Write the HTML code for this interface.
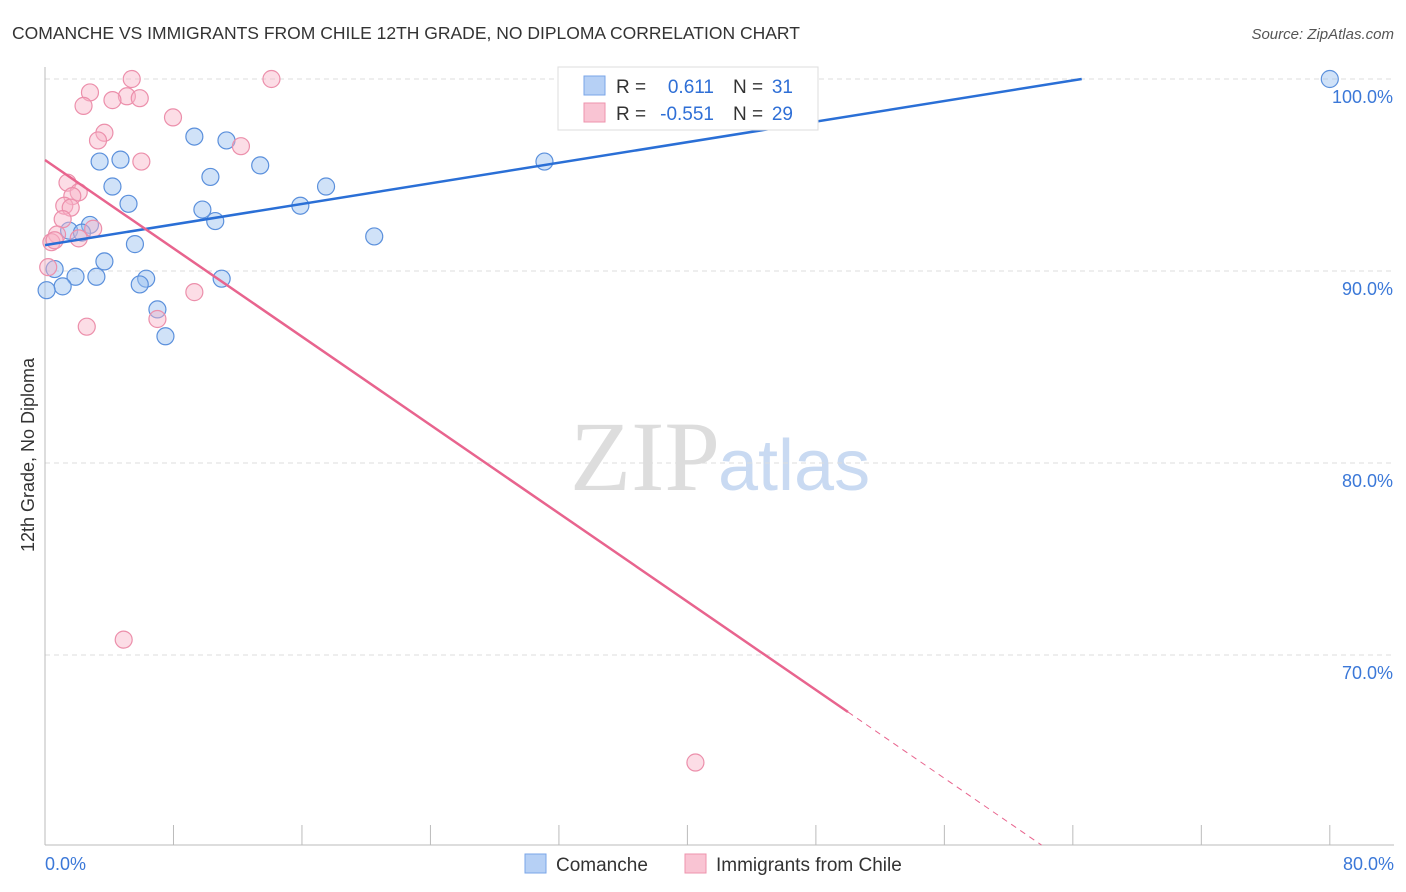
<!DOCTYPE html>
<html><head><meta charset="utf-8"><style>
body{margin:0;background:#fff;font-family:"Liberation Sans",sans-serif;}
</style></head><body>
<svg width="1406" height="892" style="display:block">
<text x="12" y="39" font-size="17.5" fill="#333">COMANCHE VS IMMIGRANTS FROM CHILE 12TH GRADE, NO DIPLOMA CORRELATION CHART</text>
<text x="1394" y="39" font-size="15" fill="#555" font-style="italic" text-anchor="end">Source: ZipAtlas.com</text>
<text x="720" y="490" font-size="100" fill="#ddd" text-anchor="end" font-family="Liberation Serif">ZIP</text>
<text x="718" y="490" font-size="72" fill="#c9daf2">atlas</text>
<text transform="translate(34,455) rotate(-90)" font-size="18" fill="#333" text-anchor="middle">12th Grade, No Diploma</text>
<g id="grid"></g><g id="axes"></g><g id="pts"></g><g id="lines"></g>
<g>
<rect x="558" y="67" width="260" height="63" fill="#fff" stroke="#ddd"/>
<rect x="584" y="76" width="21" height="19" fill="#b6d0f5" stroke="#7aa6e8"/>
<rect x="584" y="103" width="21" height="19" fill="#f9c4d3" stroke="#ee93ad"/>
<text x="616" y="93" font-size="19" fill="#333">R = </text><text x="714" y="93" font-size="19" fill="#2f6fd6" text-anchor="end">0.611</text>
<text x="733" y="93" font-size="19" fill="#333">N = </text><text x="793" y="93" font-size="19" fill="#2f6fd6" text-anchor="end">31</text>
<text x="616" y="120" font-size="19" fill="#333">R = </text><text x="714" y="120" font-size="19" fill="#2f6fd6" text-anchor="end">-0.551</text>
<text x="733" y="120" font-size="19" fill="#333">N = </text><text x="793" y="120" font-size="19" fill="#2f6fd6" text-anchor="end">29</text>
</g>
<g>
<rect x="525" y="854" width="21" height="19" fill="#b6d0f5" stroke="#7aa6e8"/>
<text x="556" y="871" font-size="19" fill="#333">Comanche</text>
<rect x="685" y="854" width="21" height="19" fill="#f9c4d3" stroke="#ee93ad"/>
<text x="716" y="871" font-size="19" fill="#333">Immigrants from Chile</text>
</g>
</svg>
<script>
const yTicks=[100,90,80,70];
const xTickLabels=["0.0%","80.0%"];
const blueX=[33.4,80,9.3,11.3,3.4,4.7,13.4,31.1,10.3,4.2,17.5,5.2,15.9,9.8,10.6,2.8,1.5,2.3,20.5,5.6,3.7,0.6,1.9,3.2,6.3,5.9,11.0,1.1,0.1,7.0,7.5];
const blueY=[100,100,97.0,96.8,95.7,95.8,95.5,95.7,94.9,94.4,94.4,93.5,93.4,93.2,92.6,92.4,92.1,92.0,91.8,91.4,90.5,90.1,89.7,89.7,89.6,89.3,89.6,89.2,89.0,88.0,86.6];
const pinkX=[14.1,5.4,2.8,2.4,5.1,4.2,5.9,7.97,3.7,3.3,12.2,6.0,1.4,2.1,1.7,1.2,1.6,1.1,0.75,2.1,3.0,0.4,0.2,9.3,7.0,2.6,4.9,40.5,0.6];
const pinkY=[100,100,99.3,98.6,99.1,98.9,99.0,98.0,97.2,96.8,96.5,95.7,94.6,94.1,93.9,93.4,93.3,92.7,91.9,91.7,92.2,91.5,90.2,88.9,87.5,87.1,70.8,64.4,91.6];
const blueFit=[91.35,0.134], pinkFit=[95.78,-0.575];
const X=v=>45+v*16.06, Y=v=>79+(100-v)*19.2;
const NS="http://www.w3.org/2000/svg";
function mk(t,a,p){const e=document.createElementNS(NS,t);for(const k in a)e.setAttribute(k,a[k]);document.getElementById(p).appendChild(e);return e;}
yTicks.forEach(t=>{
 const l=mk('line',{x1:45,x2:1394,y1:Y(t),y2:Y(t),stroke:'#ddd','stroke-dasharray':'5,4'},'grid');
 
 
 const tx=mk('text',{x:1393,y:Y(t)+24,'font-size':18,fill:'#3b78d8','text-anchor':'end'},'grid');
 tx.textContent=t.toFixed(1)+'%';
 
 
});
mk('line',{x1:45,x2:45,y1:67,y2:845,stroke:'#bbb'},'axes');
mk('line',{x1:45,x2:1394,y1:845,y2:845,stroke:'#bbb'},'axes');
for(let i=0;i<=10;i++){const x=X(i*8);const t=mk('line',{x1:x,x2:x,y1:825,y2:845,stroke:'#bbb'},'axes');
 
 }
[[0,'start',45],[80,'end',1394]].forEach((d,i)=>{const t=mk('text',{x:d[2],y:870,'font-size':18,fill:'#3b78d8','text-anchor':d[1]},'axes');t.textContent=xTickLabels[i];
 
 });
blueX.forEach((x,i)=>{const c=mk('circle',{cx:X(x),cy:Y(blueY[i]),r:8.5,fill:'rgba(150,190,240,0.45)',stroke:'#5b90dc','stroke-width':1.2},'pts');
 
 });
pinkX.forEach((x,i)=>{const c=mk('circle',{cx:X(x),cy:Y(pinkY[i]),r:8.5,fill:'rgba(248,180,200,0.45)',stroke:'#ec8fab','stroke-width':1.2},'pts');
 
 });
const bx2=(100-blueFit[0])/blueFit[1];
const bl=mk('line',{x1:X(0),y1:Y(blueFit[0]),x2:X(bx2),y2:Y(100),stroke:'#2a6fd6','stroke-width':2.5},'lines');


const pl=mk('line',{x1:X(0),y1:Y(pinkFit[0]),x2:X(50),y2:Y(pinkFit[0]+pinkFit[1]*50),stroke:'#e8648e','stroke-width':2.5},'lines');


const pxEnd=(60.1-pinkFit[0])/pinkFit[1];
const pd=mk('line',{x1:X(50),y1:Y(pinkFit[0]+pinkFit[1]*50),x2:X(pxEnd),y2:Y(60.1),stroke:'#e8648e','stroke-width':1,'stroke-dasharray':'6,5'},'lines');


</script>
</body></html>
